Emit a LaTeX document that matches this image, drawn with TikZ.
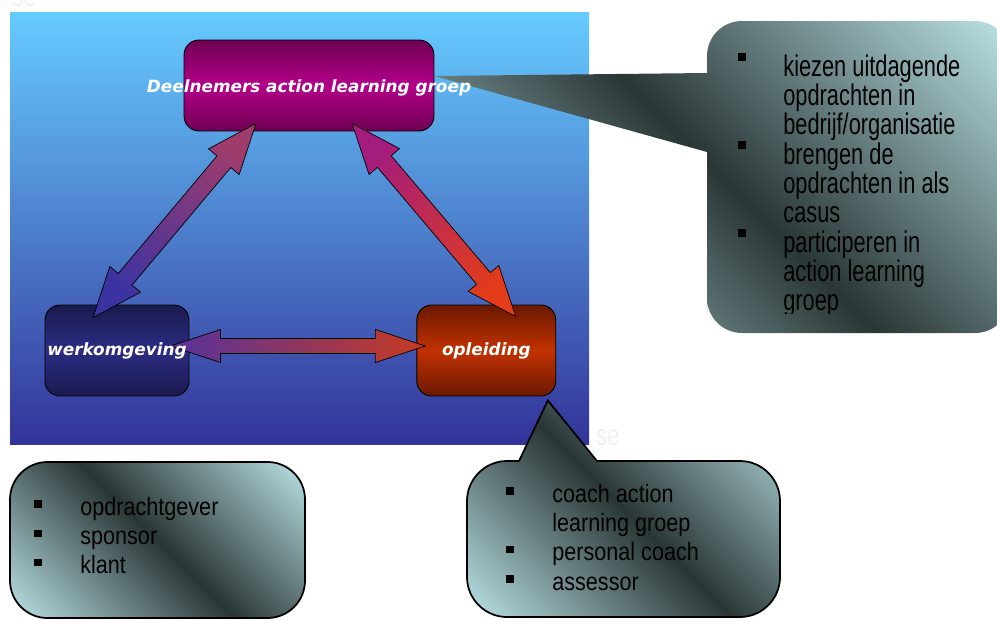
\documentclass[tikz,border=0pt]{standalone}
\usepackage{fontspec}
\setmainfont{Liberation Sans}
\newfontfamily\labelfont{DejaVu Sans}
\newfontfamily\listfont[FakeStretch=0.86]{Liberation Sans}
\newfontfamily\tallfont[FakeStretch=0.73]{Liberation Sans}
\usetikzlibrary{calc,positioning}

\definecolor{skytop}{HTML}{66CCFF}
\definecolor{skybot}{HTML}{333399}
\definecolor{deeldark}{HTML}{6E0052}
\definecolor{deelmid}{HTML}{B4008A}
\definecolor{werkdark}{HTML}{1A1A4E}
\definecolor{werkmid}{HTML}{2C2C84}
\definecolor{opldark}{HTML}{6A1800}
\definecolor{oplmid}{HTML}{C23200}
\definecolor{arrblue}{HTML}{3B33A2}
\definecolor{arrmauve}{HTML}{9E3C6C}
\definecolor{arrmagenta}{HTML}{A41C7E}
\definecolor{arrorange}{HTML}{E23C1A}
\definecolor{arrpurple}{HTML}{56329C}
\definecolor{arrred}{HTML}{C83A22}
\definecolor{callight}{HTML}{B6DDE0}
\definecolor{caldark}{HTML}{2A3636}
\definecolor{ghost}{HTML}{F0F0F0}

\pgfdeclarehorizontalshading{steel}{100bp}{color(0bp)=(callight); color(16bp)=(callight); color(50bp)=(caldark); color(84bp)=(callight); color(100bp)=(callight)}

\newcommand\fatarrow[5]{%
  \draw[#5] (#1)
    -- ($(#1)!1cm!(#2)!#3!90:(#2)$) -- ($(#1)!1cm!(#2)!#4!90:(#2)$)
    -- ($(#2)!1cm!(#1)!#4!-90:(#1)$) -- ($(#2)!1cm!(#1)!#3!-90:(#1)$)
    -- (#2)
    -- ($(#2)!1cm!(#1)!#3!90:(#1)$) -- ($(#2)!1cm!(#1)!#4!90:(#1)$)
    -- ($(#1)!1cm!(#2)!#4!-90:(#2)$) -- ($(#1)!1cm!(#2)!#3!-90:(#2)$)
    -- cycle;}
\newcommand\tallbul{\makebox[0.9cm][l]{\raisebox{8.4pt}{\rule{4.6pt}{4.6pt}}}}
\newcommand\tallnob{\hspace*{0.9cm}}
\newcommand\listbul{\makebox[0.92cm][l]{\raisebox{4.1pt}{\rule{4.2pt}{4.2pt}}}}
\newcommand\listnob{\hspace*{0.92cm}}
\newcommand\tightlines{\lineskiplimit=-30pt\relax}

\tikzset{
  box/.style={rectangle, rounded corners=0.3cm, draw=black, line width=0.5pt,
    inner sep=0, minimum height=1.82cm},
  boxtext/.style={font=\labelfont\bfseries\itshape\fontsize{9.6}{11}\selectfont,
    text=white, inner sep=0},
  fat/.style={draw=black, line width=0.4pt},
  fat left/.style={fat, left color=arrblue, right color=arrmauve, shading angle=135},
  fat right/.style={fat, left color=arrmagenta, right color=arrorange, shading angle=45},
  fat bottom/.style={fat, left color=arrpurple, right color=arrred, shading angle=90},
  callout/.style={shade, shading=steel, shading angle=45, draw=black, line width=1pt},
  tall list/.style={font=\tallfont\fontsize{17}{16.7}\selectfont,
    inner sep=0, anchor=base west},
  short list/.style={font=\listfont\fontsize{14.3}{16.7}\selectfont,
    inner sep=0, anchor=base west},
  ghost text/.style={font=\tallfont\fontsize{17}{20}\selectfont, text=ghost,
    inner sep=0, anchor=base west}
}

\begin{document}
\begin{tikzpicture}[x=0.02cm, y=-0.02cm]
  \useasboundingbox (0,0) rectangle (997,619);
  \node[ghost text] (ghost1) at (12,6.5) {se};
  \node[ghost text] (ghost2) at (596,445) {se};
  \shade[top color=skytop, bottom color=skybot] (10,12) rectangle (589,444);

  \node[box, minimum width=5cm, top color=deeldark, bottom color=deeldark,
    middle color=deelmid] (deel) at (309,85.5) {};
  \node[box, minimum width=2.88cm, top color=werkdark, bottom color=werkdark,
    middle color=werkmid] (werk) at (117,350.5) {};
  \node[box, minimum width=2.78cm, top color=opldark, bottom color=opldark,
    middle color=oplmid, right=4.54cm of werk] (opl) {};

  \path[callout, draw=none] (1010,180) [rounded corners=0.7cm] -- (1010,333) -- (707,333)
    -- (707,280) [sharp corners] -- (707,152) -- ($(deel.east)+(0,-9.5)$) -- (707,73)
    -- (707,70) [rounded corners=0.7cm] -- (707,21) -- (1010,21) -- cycle;
  \draw[callout, rounded corners=0.75cm] (10,462) rectangle (305,618);
  \draw[callout] (519,461) -- ($(opl.south)+(61.5,4)$) -- (597,461) -- (740,461)
    .. controls (762,461) and (780,479) .. (780,501) -- (780,577)
    .. controls (780,599) and (762,617) .. (740,617) -- (507,617)
    .. controls (485,617) and (467,599) .. (467,577) -- (467,501)
    .. controls (467,479) and (485,461) .. (507,461) -- cycle;

  \coordinate (werk-up) at ($(werk.north)+(-24,13)$);
  \coordinate (deel-left) at ($(deel.south)+(-53,-8)$);
  \coordinate (deel-right) at ($(deel.south)+(43,-8)$);
  \coordinate (opl-up) at ($(opl.north)+(29.5,12)$);
  \coordinate (werk-in) at ($(werk.east)+(-19,-4.5)$);
  \coordinate (opl-in) at ($(opl.west)+(9,-4.5)$);
  \fatarrow{werk-up}{deel-left}{0.4cm}{0.18cm}{fat left}
  \fatarrow{deel-right}{opl-up}{0.4cm}{0.18cm}{fat right}
  \fatarrow{werk-in}{opl-in}{0.33cm}{0.15cm}{fat bottom}

  \node[boxtext] (deel-t) at ($(deel)+(0,2)$) {Deelnemers action learning groep};
  \node[boxtext] (werk-t) at (werk) {werkomgeving};
  \node[boxtext] (opl-t) at (opl) {opleiding};

  \begin{scope}
    \clip (700,0) rectangle (997,313);
    \node[tall list] (deel-list) at (738,76) {\parbox[t]{6cm}{\tightlines
      \tallbul kiezen uitdagende\\ \tallnob opdrachten in\\ \tallnob bedrijf/organisatie\\
      \tallbul brengen de\\ \tallnob opdrachten in als\\ \tallnob casus\\
      \tallbul participeren in\\ \tallnob action learning\\ \tallnob groep}};
  \end{scope}
  \node[short list] (werk-list) at (34,515) {\parbox[t]{6cm}{\tightlines
    \listbul opdrachtgever\\ \listbul sponsor\\ \listbul klant}};
  \node[short list] (opl-list) at (506,502) {\parbox[t]{6cm}{\tightlines
    \listbul coach action\\ \listnob learning groep\\ \listbul personal coach\\
    \listbul assessor}};
\end{tikzpicture}
\end{document}
